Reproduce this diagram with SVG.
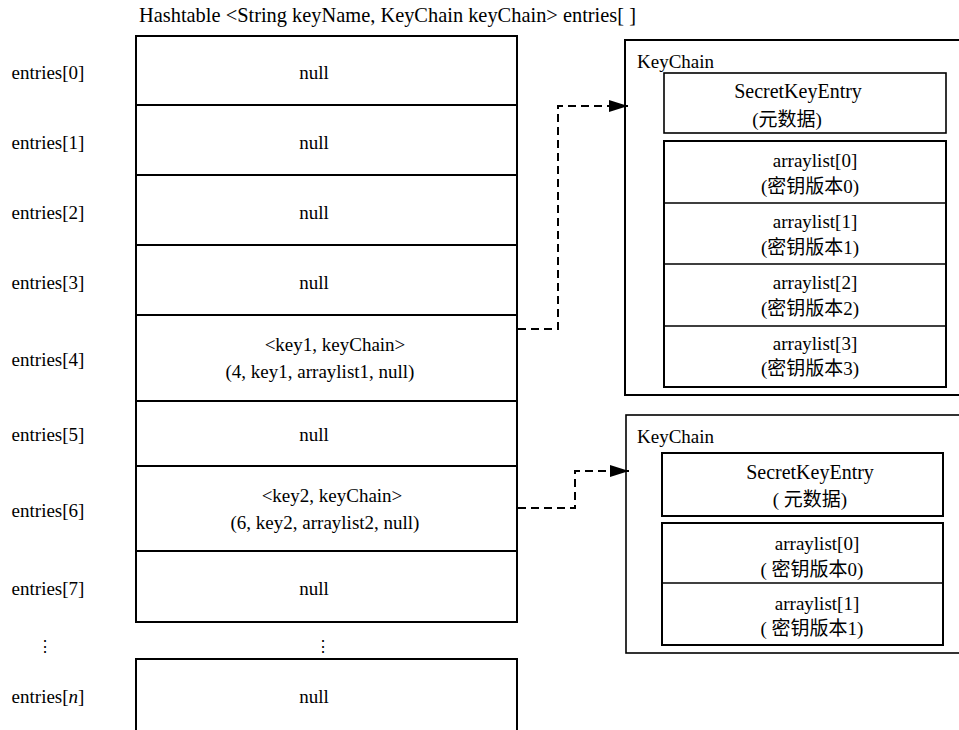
<svg xmlns="http://www.w3.org/2000/svg" width="959" height="730" viewBox="0 0 959 730">
  <style>
    text { font-family: "Liberation Serif", "Times New Roman", Tinos, "Nimbus Roman", "DejaVu Serif", "Noto Sans CJK SC", serif; font-size: 19px; fill: #000; }
    .c { text-anchor: middle; }
    .ske { font-size: 20px; }
    .head { font-size: 20.4px; }
    .box { fill: none; stroke: #000; stroke-width: 2; }
    .thin { fill: none; stroke: #000; stroke-width: 1.6; }
    .link { fill: none; stroke: #000; stroke-width: 2; stroke-dasharray: 8 5; }
    .dots { font-family: "DejaVu Serif", serif; font-size: 16px; }
  </style>
  <defs>
    <marker id="arrow" markerWidth="20" markerHeight="12" refX="19" refY="6" orient="auto" markerUnits="userSpaceOnUse">
      <path d="M0,0 L19,6 L0,12 Z" fill="#000"/>
    </marker>
  </defs>

  <rect width="959" height="730" fill="#fff"/>

  <text id="title" class="head" x="139" y="22">Hashtable &lt;String keyName, KeyChain keyChain&gt; entries[ ]</text>

  <!-- hashtable slots -->
  <g id="table">
    <rect class="box" x="136" y="36" width="381" height="586"/>
    <path class="box" d="M136,105 H517 M136,175 H517 M136,245 H517 M136,315 H517 M136,401 H517 M136,466 H517 M136,551 H517"/>
    <path class="box" d="M136,731 V659 H517 V731"/>
  </g>

  <g id="slot0"><text x="48" y="79" class="c">entries[0]</text><text x="314" y="79" class="c">null</text></g>
  <g id="slot1"><text x="48" y="149" class="c">entries[1]</text><text x="314" y="149" class="c">null</text></g>
  <g id="slot2"><text x="48" y="219" class="c">entries[2]</text><text x="314" y="219" class="c">null</text></g>
  <g id="slot3"><text x="48" y="289" class="c">entries[3]</text><text x="314" y="289" class="c">null</text></g>
  <g id="slot4">
    <text x="48" y="366" class="c">entries[4]</text>
    <text x="335" y="351" class="c">&lt;key1, keyChain&gt;</text>
    <text x="320" y="378" class="c">(4, key1, arraylist1, null)</text>
  </g>
  <g id="slot5"><text x="48" y="441" class="c">entries[5]</text><text x="314" y="441" class="c">null</text></g>
  <g id="slot6">
    <text x="48" y="517" class="c">entries[6]</text>
    <text x="332" y="502" class="c">&lt;key2, keyChain&gt;</text>
    <text x="325" y="529" class="c">(6, key2, arraylist2, null)</text>
  </g>
  <g id="slot7"><text x="48" y="595" class="c">entries[7]</text><text x="314" y="595" class="c">null</text></g>
  <g id="ellipsis">
    <text class="c dots" x="45" y="652">⋮</text>
    <text class="c dots" x="323" y="652">⋮</text>
  </g>
  <g id="slotN"><text x="48" y="703" class="c">entries[<tspan font-style="italic">n</tspan>]</text><text x="314" y="703" class="c">null</text></g>

  <!-- first key chain -->
  <g id="keychain1">
    <rect class="box" x="625" y="40" width="345" height="355"/>
    <text x="637" y="68">KeyChain</text>
    <rect class="thin" x="664" y="73" width="282" height="60"/>
    <text x="798" y="98" class="c ske">SecretKeyEntry</text>
    <text x="787" y="126" class="c">(元数据)</text>
    <rect class="box" x="664" y="141" width="282" height="246"/>
    <path class="thin" d="M664,203 H946 M664,264 H946 M664,326 H946"/>
    <text x="815" y="167" class="c">arraylist[0]</text>
    <text x="810" y="193" class="c">(密钥版本0)</text>
    <text x="815" y="228" class="c">arraylist[1]</text>
    <text x="810" y="254" class="c">(密钥版本1)</text>
    <text x="815" y="289" class="c">arraylist[2]</text>
    <text x="810" y="315" class="c">(密钥版本2)</text>
    <text x="815" y="350" class="c">arraylist[3]</text>
    <text x="810" y="375" class="c">(密钥版本3)</text>
  </g>

  <!-- second key chain -->
  <g id="keychain2">
    <rect class="thin" x="626" y="415" width="345" height="238"/>
    <text x="637" y="443">KeyChain</text>
    <rect class="box" x="662" y="453" width="281" height="63"/>
    <text x="810" y="479" class="c ske">SecretKeyEntry</text>
    <text x="810" y="506" class="c">( 元数据)</text>
    <rect class="box" x="662" y="523" width="281" height="122"/>
    <path class="thin" d="M662,583 H943"/>
    <text x="817" y="550" class="c">arraylist[0]</text>
    <text x="812" y="576" class="c">( 密钥版本0)</text>
    <text x="817" y="610" class="c">arraylist[1]</text>
    <text x="812" y="635" class="c">( 密钥版本1)</text>
  </g>

  <!-- slot-to-chain references -->
  <g id="connectors">
    <path class="link" d="M518,329 H558 V106 H628" marker-end="url(#arrow)"/>
    <path class="link" d="M518,508 H575 V471 H629" marker-end="url(#arrow)"/>
  </g>
</svg>
